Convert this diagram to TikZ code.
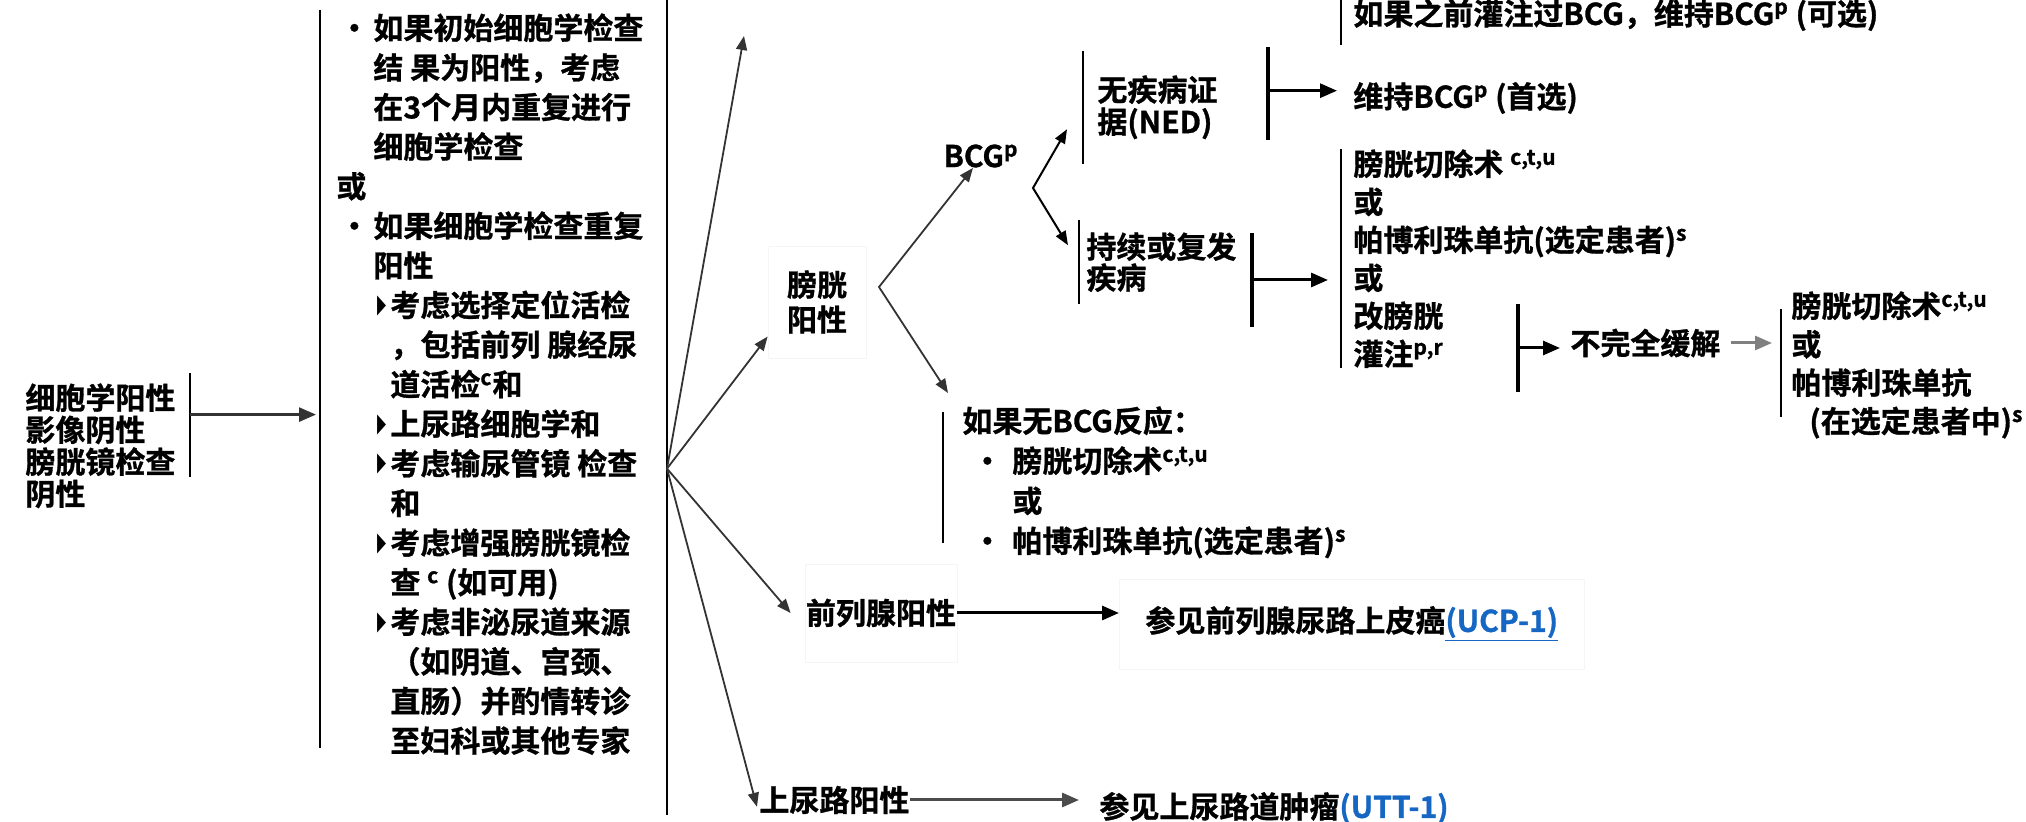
\documentclass[tikz,border=0pt]{standalone}
\usepackage{graphicx}
\usepackage{fontspec}
\setmainfont{Noto Sans CJK SC Bold}[FakeBold=1]
\newfontfamily\symfont{DejaVu Sans}
\usetikzlibrary{arrows.meta,positioning}
\definecolor{lnk}{RGB}{22,102,196}
\newcommand{\fz}[1]{\fontsize{15}{#1}\selectfont}
\newcommand{\bdot}{\makebox[18.5pt][l]{\hspace{1.5pt}•}}
\newcommand{\ndot}{\hspace*{5pt}\makebox[20pt][l]{•}}
\newcommand{\btri}{\hspace*{20.5pt}\makebox[6.5pt][l]{\symfont\scalebox{.6}[1.35]{▸}}}
\newcommand{\ind}{\hspace*{27pt}}
\newcommand{\indb}{\hspace*{18.5pt}}

\begin{document}
\begin{tikzpicture}[x=0.5pt,y=-0.5pt,
  every node/.style={inner sep=0pt,align=left,font=\fz{18}},
  >={Triangle[length=7pt,width=5.5pt]},
  bar/.style={line width=1.1pt},
  heavy/.style={line width=2pt},
  faint/.style={draw=black!4},
  ray/.style={->,draw=black!80,line width=.9pt},
  tip/.style={<->,line width=1pt},
  go/.style={-{Triangle[length=8.5pt,width=7pt]},line width=1.5pt}]
\useasboundingbox (0,0) rectangle (2026,822);

\node[anchor=north west,font=\fz{16}] (src) at (25,383) {细胞学阳性\\影像阴性\\膀胱镜检查\\阴性};
\draw[bar] (190,373) -- coordinate[pos=.4] (s1) (190,477);
\draw[bar] (320,10) coordinate (c1) -- (320,748);
\draw[go,black!80,line width=1.3pt,shorten >=2pt] (s1) -- (s1 -| c1);

\node[anchor=north west,font=\fz{19.8}] (chk) at (336,13) {\bdot 如果初始细胞学检查\\
\indb 结 果为阳性，考虑\\
\indb 在3个月内重复进行\\
\indb 细胞学检查\\
或\\
\bdot 如果细胞学检查重复\\
\indb 阳性\\
\btri 考虑选择定位活检\\
\ind ，包括前列 腺经尿\\
\ind 道活检\textsuperscript{c}和\\
\btri 上尿路细胞学和\\
\btri 考虑输尿管镜 检查\\
\ind 和\\
\btri 考虑增强膀胱镜检\\
\ind 查 \textsuperscript{c} (如可用)\\
\btri 考虑非泌尿道来源\\
\ind （如阴道、宫颈、\\
\ind 直肠）并酌情转诊\\
\ind 至妇科或其他专家};

\draw[bar] (667,0) -- coordinate[pos=.575] (hub) (667,815);
\coordinate (up) at (744,36);
\node[faint,align=center,font=\fz{17.5},minimum width=49pt,minimum height=56pt] (bl) at (817,302) {膀胱\\阳性};
\node[faint,minimum width=76pt,minimum height=49pt] (pr) at (881,613) {前列腺阳性};
\node[anchor=west] (ur) at (759,800) {上尿路阳性};
\draw[ray] (hub) -- (up);
\draw[ray] (hub) -- (bl.215);
\draw[ray] (hub) -- ([xshift=-7pt]pr.west);
\draw[ray,shorten >=4pt] (hub) -- (ur.south west);

\node[faint,anchor=west,inner xsep=13pt,minimum height=45pt] (sp) at (1119,624) {参见前列腺尿路上皮癌{\color{lnk}\underline{(UCP-1)}}};
\node[anchor=west,inner xsep=10pt] (su) at (1079,808) {参见上尿路道肿瘤{\color{lnk}(UTT-1)}};
\draw[go] (pr.east) -- (pr.east -| sp.west);
\draw[go,black!70] (ur.east) -- (ur.east -| su.west);

\node (bcg) at (981,156) {BCG\textsuperscript{p}};
\coordinate (a1) at (879,287);
\node[anchor=north west,inner xsep=9.5pt,font=\fz{20}] (nb) at (943,406) {如果无BCG反应：\\
\ndot 膀胱切除术\textsuperscript{c,t,u}\\
\hspace*{25pt}或\\
\ndot 帕博利珠单抗(选定患者)\textsuperscript{s}};
\draw[bar,line width=.9pt,shorten <=3pt,shorten >=8pt] (nb.north west) -- (nb.south west);
\draw[ray,<->] ([xshift=-4pt]bcg.south) -- (a1) -- ([shift={(5,-13)}]nb.north west);

\node[anchor=north west,inner xsep=7pt,inner ysep=12pt,font=\fz{16}] (ned) at (1083,51) {无疾病证\\据(NED)};
\node[anchor=north west,inner xsep=3.5pt,inner ysep=6pt,font=\fz{15.5}] (pd) at (1079,220) {持续或复发\\疾病};
\draw[bar,line width=.9pt] (ned.north west) -- (ned.south west);
\draw[bar,line width=.9pt] (pd.north west) -- (pd.south west);
\coordinate (a2) at (1033,188);
\draw[tip] ([shift={(-16,22)}]ned.west) -- (a2) -- ([shift={(-11,-17)}]pd.west);

\node[anchor=west,inner xsep=6pt] (pb) at (1341,15) {如果之前灌注过BCG，维持BCG\textsuperscript{p} (可选)};
\draw[bar] (pb.north west) -- ++(0,46);
\node[anchor=west,inner xsep=8pt] (mb) at (1337,98) {维持BCG\textsuperscript{p} (首选)};
\draw[heavy] (1268,47) -- coordinate[pos=.47] (k1) (1268,140);
\draw[go] (k1) -- (k1 -| mb.west);

\node[anchor=north west,inner xsep=6pt,font=\fz{19}] (rl) at (1341,149) {膀胱切除术 \textsuperscript{c,t,u}\\
或\\
帕博利珠单抗(选定患者)\textsuperscript{s}\\
或\\
改膀胱\\
灌注\textsuperscript{p,r}};
\draw[bar] (rl.north west) -- (rl.south west);
\draw[heavy] (1252,233) -- coordinate (k2) (1252,327);
\draw[go,shorten >=6.5pt] (k2) -- (k2 -| rl.west);

\node[anchor=west,inner xsep=5pt] (ic) at (1560,343) {不完全缓解};
\draw[heavy] (1518,304) -- coordinate (k3) (1518,392);
\draw[go] (k3) -- (k3 -| ic.west);
\node[anchor=north west,inner xsep=5pt,font=\fz{19.2}] (rr) at (1781,291) {膀胱切除术\textsuperscript{c,t,u}\\
或\\
帕博利珠单抗\\
\hspace*{9pt}(在选定患者中)\textsuperscript{s}};
\draw[bar,shorten <=9pt,shorten >=11pt] (rr.north west) -- (rr.south west);
\draw[go,black!50,shorten >=4.5pt] (ic.east) -- (ic.east -| rr.west);
\end{tikzpicture}
\end{document}
